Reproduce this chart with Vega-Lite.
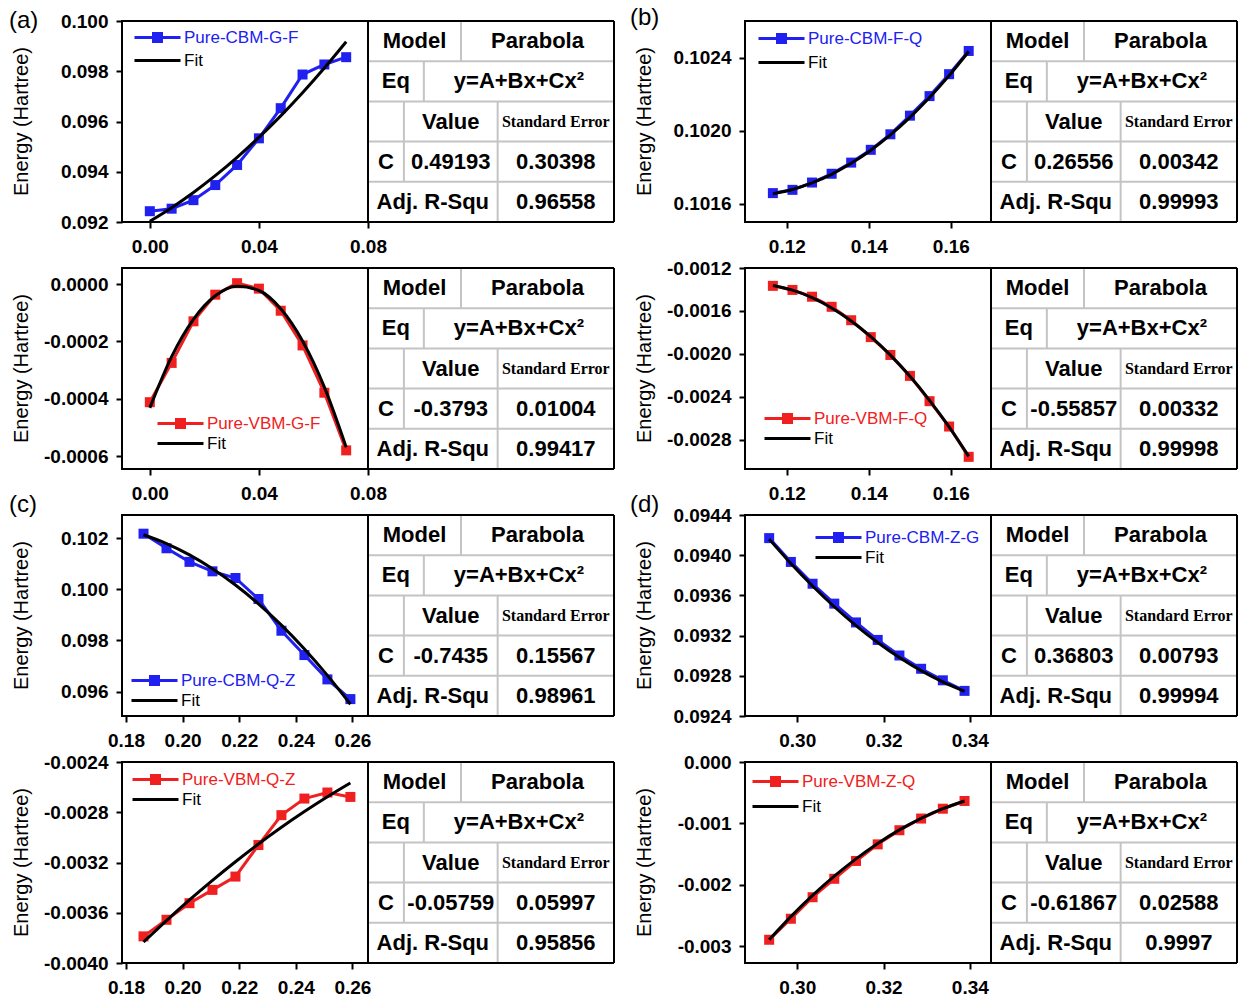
{
"$schema": "https://vega.github.io/schema/vega-lite/v6.json",
"padding": {"left": 8, "top": 5, "right": 0, "bottom": 0},
"background": "white",
"config": {
  "font": "Liberation Sans",
  "view": {"stroke": "black", "strokeWidth": 2},
  "axis": {"domain": false, "grid": false, "tickColor": "black", "tickWidth": 2, "tickSize": 6, "labelFont": "Liberation Sans", "labelFontSize": 19, "labelFontWeight": "bold", "labelColor": "black", "labelPadding": 9, "labelFlush": false, "labelOverlap": false, "titleFont": "Liberation Sans", "titleFontSize": 20, "titleFontWeight": "normal", "titleColor": "black"},
  "axisY": {"titleX": -101, "titleY": 100, "titleAngle": 270, "titleBaseline": "middle", "titleAlign": "center", "labelPadding": 8},
  "legend": {"labelFont": "Liberation Sans", "labelFontSize": 17, "symbolSize": 256, "symbolStrokeWidth": 3, "labelOffset": 17, "padding": 0},
  "title": {"font": "Liberation Sans", "fontSize": 24, "fontWeight": "normal", "color": "black", "anchor": "start", "frame": "group", "offset": 0},
  "locale": {"number": {"decimal": ".", "thousands": ",", "grouping": [3], "currency": ["$", ""], "minus": "-"}}
},
"datasets": {
  "pts": [
    {"p":"a1","s":"Pure-CBM-G-F","x":0,"y":0.09243},{"p":"a1","s":"Pure-CBM-G-F","x":0.008,"y":0.09253},{"p":"a1","s":"Pure-CBM-G-F","x":0.016,"y":0.09287},{"p":"a1","s":"Pure-CBM-G-F","x":0.024,"y":0.09347},{"p":"a1","s":"Pure-CBM-G-F","x":0.032,"y":0.09427},{"p":"a1","s":"Pure-CBM-G-F","x":0.04,"y":0.09533},{"p":"a1","s":"Pure-CBM-G-F","x":0.048,"y":0.09653},{"p":"a1","s":"Pure-CBM-G-F","x":0.056,"y":0.09787},{"p":"a1","s":"Pure-CBM-G-F","x":0.064,"y":0.09827},{"p":"a1","s":"Pure-CBM-G-F","x":0.072,"y":0.09856},
    {"p":"a1","s":"Fit","x":0,"y":0.09203},{"p":"a1","s":"Fit","x":0.008,"y":0.092572},{"p":"a1","s":"Fit","x":0.016,"y":0.093177},{"p":"a1","s":"Fit","x":0.024,"y":0.093844},{"p":"a1","s":"Fit","x":0.032,"y":0.094576},{"p":"a1","s":"Fit","x":0.04,"y":0.095369},{"p":"a1","s":"Fit","x":0.048,"y":0.096225},{"p":"a1","s":"Fit","x":0.056,"y":0.097146},{"p":"a1","s":"Fit","x":0.064,"y":0.098128},{"p":"a1","s":"Fit","x":0.072,"y":0.099174},
    {"p":"a2","s":"Pure-VBM-G-F","x":0,"y":-0.000412},{"p":"a2","s":"Pure-VBM-G-F","x":0.008,"y":-0.000275},{"p":"a2","s":"Pure-VBM-G-F","x":0.016,"y":-0.00013},{"p":"a2","s":"Pure-VBM-G-F","x":0.024,"y":-0.000037},{"p":"a2","s":"Pure-VBM-G-F","x":0.032,"y":0.000003},{"p":"a2","s":"Pure-VBM-G-F","x":0.04,"y":-0.000016},{"p":"a2","s":"Pure-VBM-G-F","x":0.048,"y":-0.000093},{"p":"a2","s":"Pure-VBM-G-F","x":0.056,"y":-0.000214},{"p":"a2","s":"Pure-VBM-G-F","x":0.064,"y":-0.000379},{"p":"a2","s":"Pure-VBM-G-F","x":0.072,"y":-0.00058},
    {"p":"a2","s":"Fit","x":0,"y":-0.000432},{"p":"a2","s":"Fit","x":0.008,"y":-0.000253},{"p":"a2","s":"Fit","x":0.016,"y":-0.000123},{"p":"a2","s":"Fit","x":0.024,"y":-0.000041},{"p":"a2","s":"Fit","x":0.032,"y":-0.0000073},{"p":"a2","s":"Fit","x":0.04,"y":-0.0000225},{"p":"a2","s":"Fit","x":0.048,"y":-0.0000862},{"p":"a2","s":"Fit","x":0.056,"y":-0.0001985},{"p":"a2","s":"Fit","x":0.064,"y":-0.0003594},{"p":"a2","s":"Fit","x":0.072,"y":-0.0005688},
    {"p":"b1","s":"Pure-CBM-F-Q","x":0.1166,"y":0.101658},{"p":"b1","s":"Pure-CBM-F-Q","x":0.12138,"y":0.101676},{"p":"b1","s":"Pure-CBM-F-Q","x":0.12615,"y":0.101716},{"p":"b1","s":"Pure-CBM-F-Q","x":0.13093,"y":0.101764},{"p":"b1","s":"Pure-CBM-F-Q","x":0.1357,"y":0.101825},{"p":"b1","s":"Pure-CBM-F-Q","x":0.14048,"y":0.101895},{"p":"b1","s":"Pure-CBM-F-Q","x":0.14526,"y":0.10198},{"p":"b1","s":"Pure-CBM-F-Q","x":0.15003,"y":0.102082},{"p":"b1","s":"Pure-CBM-F-Q","x":0.15481,"y":0.102189},{"p":"b1","s":"Pure-CBM-F-Q","x":0.15958,"y":0.102309},{"p":"b1","s":"Pure-CBM-F-Q","x":0.16436,"y":0.102436},
    {"p":"b1","s":"Fit","x":0.1166,"y":0.101655},{"p":"b1","s":"Fit","x":0.12138,"y":0.101678},{"p":"b1","s":"Fit","x":0.12615,"y":0.101714},{"p":"b1","s":"Fit","x":0.13093,"y":0.101761},{"p":"b1","s":"Fit","x":0.1357,"y":0.101821},{"p":"b1","s":"Fit","x":0.14048,"y":0.101893},{"p":"b1","s":"Fit","x":0.14526,"y":0.101977},{"p":"b1","s":"Fit","x":0.15003,"y":0.102073},{"p":"b1","s":"Fit","x":0.15481,"y":0.102181},{"p":"b1","s":"Fit","x":0.15958,"y":0.102301},{"p":"b1","s":"Fit","x":0.16436,"y":0.102433},
    {"p":"b2","s":"Pure-VBM-F-Q","x":0.1166,"y":-0.001366},{"p":"b2","s":"Pure-VBM-F-Q","x":0.12138,"y":-0.001404},{"p":"b2","s":"Pure-VBM-F-Q","x":0.12615,"y":-0.001467},{"p":"b2","s":"Pure-VBM-F-Q","x":0.13093,"y":-0.001561},{"p":"b2","s":"Pure-VBM-F-Q","x":0.1357,"y":-0.001686},{"p":"b2","s":"Pure-VBM-F-Q","x":0.14048,"y":-0.001843},{"p":"b2","s":"Pure-VBM-F-Q","x":0.14526,"y":-0.002009},{"p":"b2","s":"Pure-VBM-F-Q","x":0.15003,"y":-0.002204},{"p":"b2","s":"Pure-VBM-F-Q","x":0.15481,"y":-0.002439},{"p":"b2","s":"Pure-VBM-F-Q","x":0.15958,"y":-0.002675},{"p":"b2","s":"Pure-VBM-F-Q","x":0.16436,"y":-0.002957},
    {"p":"b2","s":"Fit","x":0.1166,"y":-0.001362},{"p":"b2","s":"Fit","x":0.12138,"y":-0.001406},{"p":"b2","s":"Fit","x":0.12615,"y":-0.001476},{"p":"b2","s":"Fit","x":0.13093,"y":-0.001572},{"p":"b2","s":"Fit","x":0.1357,"y":-0.001693},{"p":"b2","s":"Fit","x":0.14048,"y":-0.001839},{"p":"b2","s":"Fit","x":0.14526,"y":-0.002011},{"p":"b2","s":"Fit","x":0.15003,"y":-0.002208},{"p":"b2","s":"Fit","x":0.15481,"y":-0.002431},{"p":"b2","s":"Fit","x":0.15958,"y":-0.002679},{"p":"b2","s":"Fit","x":0.16436,"y":-0.002953},
    {"p":"c1","s":"Pure-CBM-Q-Z","x":0.1862,"y":0.10217},{"p":"c1","s":"Pure-CBM-Q-Z","x":0.19432,"y":0.1016},{"p":"c1","s":"Pure-CBM-Q-Z","x":0.20244,"y":0.10107},{"p":"c1","s":"Pure-CBM-Q-Z","x":0.21056,"y":0.1007},{"p":"c1","s":"Pure-CBM-Q-Z","x":0.21868,"y":0.10044},{"p":"c1","s":"Pure-CBM-Q-Z","x":0.2268,"y":0.09962},{"p":"c1","s":"Pure-CBM-Q-Z","x":0.23492,"y":0.09838},{"p":"c1","s":"Pure-CBM-Q-Z","x":0.24304,"y":0.09743},{"p":"c1","s":"Pure-CBM-Q-Z","x":0.25116,"y":0.09648},{"p":"c1","s":"Pure-CBM-Q-Z","x":0.25928,"y":0.09571},
    {"p":"c1","s":"Fit","x":0.1862,"y":0.10213},{"p":"c1","s":"Fit","x":0.19432,"y":0.101786},{"p":"c1","s":"Fit","x":0.20244,"y":0.101345},{"p":"c1","s":"Fit","x":0.21056,"y":0.100805},{"p":"c1","s":"Fit","x":0.21868,"y":0.100167},{"p":"c1","s":"Fit","x":0.2268,"y":0.099432},{"p":"c1","s":"Fit","x":0.23492,"y":0.098598},{"p":"c1","s":"Fit","x":0.24304,"y":0.097667},{"p":"c1","s":"Fit","x":0.25116,"y":0.096637},{"p":"c1","s":"Fit","x":0.25928,"y":0.09551},
    {"p":"c2","s":"Pure-VBM-Q-Z","x":0.1862,"y":-0.003788},{"p":"c2","s":"Pure-VBM-Q-Z","x":0.19432,"y":-0.003656},{"p":"c2","s":"Pure-VBM-Q-Z","x":0.20244,"y":-0.003524},{"p":"c2","s":"Pure-VBM-Q-Z","x":0.21056,"y":-0.003418},{"p":"c2","s":"Pure-VBM-Q-Z","x":0.21868,"y":-0.003312},{"p":"c2","s":"Pure-VBM-Q-Z","x":0.2268,"y":-0.003061},{"p":"c2","s":"Pure-VBM-Q-Z","x":0.23492,"y":-0.002823},{"p":"c2","s":"Pure-VBM-Q-Z","x":0.24304,"y":-0.002691},{"p":"c2","s":"Pure-VBM-Q-Z","x":0.25116,"y":-0.002643},{"p":"c2","s":"Pure-VBM-Q-Z","x":0.25928,"y":-0.002678},
    {"p":"c2","s":"Fit","x":0.1862,"y":-0.003833},{"p":"c2","s":"Fit","x":0.19432,"y":-0.003662},{"p":"c2","s":"Fit","x":0.20244,"y":-0.003498},{"p":"c2","s":"Fit","x":0.21056,"y":-0.003342},{"p":"c2","s":"Fit","x":0.21868,"y":-0.003194},{"p":"c2","s":"Fit","x":0.2268,"y":-0.003053},{"p":"c2","s":"Fit","x":0.23492,"y":-0.00292},{"p":"c2","s":"Fit","x":0.24304,"y":-0.002795},{"p":"c2","s":"Fit","x":0.25116,"y":-0.002677},{"p":"c2","s":"Fit","x":0.25928,"y":-0.002567},
    {"p":"d1","s":"Pure-CBM-Z-G","x":0.2935,"y":0.09417},{"p":"d1","s":"Pure-CBM-Z-G","x":0.29853,"y":0.093933},{"p":"d1","s":"Pure-CBM-Z-G","x":0.30356,"y":0.093716},{"p":"d1","s":"Pure-CBM-Z-G","x":0.30859,"y":0.093518},{"p":"d1","s":"Pure-CBM-Z-G","x":0.31362,"y":0.093331},{"p":"d1","s":"Pure-CBM-Z-G","x":0.31865,"y":0.093157},{"p":"d1","s":"Pure-CBM-Z-G","x":0.32368,"y":0.093002},{"p":"d1","s":"Pure-CBM-Z-G","x":0.32871,"y":0.09287},{"p":"d1","s":"Pure-CBM-Z-G","x":0.33374,"y":0.092755},{"p":"d1","s":"Pure-CBM-Z-G","x":0.33877,"y":0.09265},
    {"p":"d1","s":"Fit","x":0.2935,"y":0.09416},{"p":"d1","s":"Fit","x":0.29853,"y":0.093917},{"p":"d1","s":"Fit","x":0.30356,"y":0.093693},{"p":"d1","s":"Fit","x":0.30859,"y":0.093487},{"p":"d1","s":"Fit","x":0.31362,"y":0.0933},{"p":"d1","s":"Fit","x":0.31865,"y":0.093132},{"p":"d1","s":"Fit","x":0.32368,"y":0.092982},{"p":"d1","s":"Fit","x":0.32871,"y":0.092851},{"p":"d1","s":"Fit","x":0.33374,"y":0.092739},{"p":"d1","s":"Fit","x":0.33877,"y":0.092645},
    {"p":"d2","s":"Pure-VBM-Z-Q","x":0.2935,"y":-0.002892},{"p":"d2","s":"Pure-VBM-Z-Q","x":0.29853,"y":-0.00255},{"p":"d2","s":"Pure-VBM-Z-Q","x":0.30356,"y":-0.0022},{"p":"d2","s":"Pure-VBM-Z-Q","x":0.30859,"y":-0.0019},{"p":"d2","s":"Pure-VBM-Z-Q","x":0.31362,"y":-0.00161},{"p":"d2","s":"Pure-VBM-Z-Q","x":0.31865,"y":-0.00134},{"p":"d2","s":"Pure-VBM-Z-Q","x":0.32368,"y":-0.00111},{"p":"d2","s":"Pure-VBM-Z-Q","x":0.32871,"y":-0.00092},{"p":"d2","s":"Pure-VBM-Z-Q","x":0.33374,"y":-0.00076},{"p":"d2","s":"Pure-VBM-Z-Q","x":0.33877,"y":-0.000634},
    {"p":"d2","s":"Fit","x":0.2935,"y":-0.002892},{"p":"d2","s":"Fit","x":0.29853,"y":-0.002516},{"p":"d2","s":"Fit","x":0.30356,"y":-0.002171},{"p":"d2","s":"Fit","x":0.30859,"y":-0.001858},{"p":"d2","s":"Fit","x":0.31362,"y":-0.001576},{"p":"d2","s":"Fit","x":0.31865,"y":-0.001325},{"p":"d2","s":"Fit","x":0.32368,"y":-0.001105},{"p":"d2","s":"Fit","x":0.32871,"y":-0.000917},{"p":"d2","s":"Fit","x":0.33374,"y":-0.00076},{"p":"d2","s":"Fit","x":0.33877,"y":-0.000634}
  ],
  "grid": [
    {"x":0,"x2":100,"y":1,"y2":1},{"x":0,"x2":100,"y":2,"y2":2},{"x":0,"x2":100,"y":3,"y2":3},{"x":0,"x2":100,"y":4,"y2":4},
    {"x":37.8,"x2":37.8,"y":0,"y2":1},{"x":22.7,"x2":22.7,"y":1,"y2":2},{"x":14.6,"x2":14.6,"y":2,"y2":4},{"x":52.7,"x2":52.7,"y":2,"y2":5}
  ],
  "frame": [
    {"x":0,"x2":100,"y":0,"y2":0},{"x":0,"x2":100,"y":5,"y2":5},{"x":0,"x2":0,"y":0,"y2":5},{"x":100,"x2":100,"y":0,"y2":5}
  ],
  "cells": [
    {"p":"all","tx":18.9,"r":0.5,"t":"Model"},{"p":"all","tx":68.9,"r":0.5,"t":"Parabola"},{"p":"all","tx":11.35,"r":1.5,"t":"Eq"},{"p":"all","tx":61.35,"r":1.5,"t":"y=A+Bx+Cx²"},{"p":"all","tx":33.65,"r":2.5,"t":"Value"},{"p":"all","tx":76.35,"r":2.5,"t":"Standard Error"},{"p":"all","tx":7.3,"r":3.5,"t":"C"},{"p":"all","tx":26.35,"r":4.5,"t":"Adj. R-Squ"},
    {"p":"a1","tx":33.65,"r":3.5,"t":"0.49193"},{"p":"a1","tx":76.35,"r":3.5,"t":"0.30398"},{"p":"a1","tx":76.35,"r":4.5,"t":"0.96558"},
    {"p":"a2","tx":33.65,"r":3.5,"t":"-0.3793"},{"p":"a2","tx":76.35,"r":3.5,"t":"0.01004"},{"p":"a2","tx":76.35,"r":4.5,"t":"0.99417"},
    {"p":"b1","tx":33.65,"r":3.5,"t":"0.26556"},{"p":"b1","tx":76.35,"r":3.5,"t":"0.00342"},{"p":"b1","tx":76.35,"r":4.5,"t":"0.99993"},
    {"p":"b2","tx":33.65,"r":3.5,"t":"-0.55857"},{"p":"b2","tx":76.35,"r":3.5,"t":"0.00332"},{"p":"b2","tx":76.35,"r":4.5,"t":"0.99998"},
    {"p":"c1","tx":33.65,"r":3.5,"t":"-0.7435"},{"p":"c1","tx":76.35,"r":3.5,"t":"0.15567"},{"p":"c1","tx":76.35,"r":4.5,"t":"0.98961"},
    {"p":"c2","tx":33.65,"r":3.5,"t":"-0.05759"},{"p":"c2","tx":76.35,"r":3.5,"t":"0.05997"},{"p":"c2","tx":76.35,"r":4.5,"t":"0.95856"},
    {"p":"d1","tx":33.65,"r":3.5,"t":"0.36803"},{"p":"d1","tx":76.35,"r":3.5,"t":"0.00793"},{"p":"d1","tx":76.35,"r":4.5,"t":"0.99994"},
    {"p":"d2","tx":33.65,"r":3.5,"t":"-0.61867"},{"p":"d2","tx":76.35,"r":3.5,"t":"0.02588"},{"p":"d2","tx":76.35,"r":4.5,"t":"0.9997"}
  ]
},
"columns": 4,
"bounds": "flush",
"align": "each",
"spacing": {"row": 46, "column": 0},
"resolve": {"scale": {"color": "independent"}, "legend": {"color": "independent"}},
"concat": [
   {"width": 246, "height": 201, "title": {"text": "(a)", "dx": -113, "dy": 25},
    "data": {"name": "pts"}, "transform": [{"filter": "datum.p === 'a1'"}],
    "encoding": {
     "x": {"field": "x", "type": "quantitative", "scale": {"domain": [-0.0102, 0.08], "nice": false, "zero": false}, "axis": {"values": [0, 0.04, 0.08], "format": ".2f", "title": null}},
     "y": {"field": "y", "type": "quantitative", "scale": {"domain": [0.092, 0.1], "nice": false, "zero": false}, "axis": {"values": [0.092, 0.094, 0.096, 0.098, 0.1], "format": ".3f", "title": "Energy (Hartree)"}},
     "color": {"field": "s", "type": "nominal", "scale": {"domain": ["Pure-CBM-G-F", "Fit"], "range": ["#2020f0", "black"]},
      "legend": {"title": null, "orient": "none", "legendX": 26, "legendY": 7, "rowPadding": 3, "symbolType": {"expr": "datum.value === 'Fit' ? 'M-2.875,0L2.875,0' : 'M-2.875,0L2.875,0M-0.5,-0.5L0.5,-0.5L0.5,0.5L-0.5,0.5Z'"}, "labelColor": {"expr": "datum.value === 'Fit' ? 'black' : '#2020f0'"}, "symbolFillColor": {"expr": "datum.value === 'Fit' ? 'black' : '#2020f0'"}}}
    },
    "layer": [
     {"transform": [{"filter": "datum.s !== 'Fit'"}], "mark": {"type": "line", "strokeWidth": 3}},
     {"transform": [{"filter": "datum.s !== 'Fit'"}], "mark": {"type": "point", "shape": "square", "filled": true, "size": 100, "opacity": 1}},
     {"transform": [{"filter": "datum.s === 'Fit'"}], "mark": {"type": "line", "strokeWidth": 3, "interpolate": "monotone"}}
    ]},
   {"width": 377, "height": 201, "view": {"stroke": null}, "layer": [
     {"data": {"name": "grid"}, "mark": {"type": "rule", "color": "#c4c4c4", "strokeWidth": 2}, "encoding": {"x": {"field": "x", "type": "quantitative", "scale": {"domain": [0, 153.25], "nice": false}, "axis": null}, "x2": {"field": "x2"}, "y": {"field": "y", "type": "quantitative", "scale": {"domain": [0, 5], "reverse": true, "nice": false}, "axis": null}, "y2": {"field": "y2"}}},
     {"data": {"name": "frame"}, "mark": {"type": "rule", "color": "black", "strokeWidth": 2}, "encoding": {"x": {"field": "x", "type": "quantitative", "scale": {"domain": [0, 153.25], "nice": false}, "axis": null}, "x2": {"field": "x2"}, "y": {"field": "y", "type": "quantitative", "scale": {"domain": [0, 5], "reverse": true, "nice": false}, "axis": null}, "y2": {"field": "y2"}}},
     {"data": {"name": "cells"}, "transform": [{"filter": "(datum.p === 'a1' || datum.p === 'all') && datum.t !== 'Standard Error'"}], "mark": {"type": "text", "fontSize": 22, "font": "Liberation Sans", "fontWeight": "bold", "color": "black"}, "encoding": {"x": {"field": "tx", "type": "quantitative", "scale": {"domain": [0, 153.25], "nice": false}, "axis": null}, "y": {"field": "r", "type": "quantitative", "scale": {"domain": [0, 5], "reverse": true, "nice": false}, "axis": null}, "text": {"field": "t"}}},
     {"data": {"name": "cells"}, "transform": [{"filter": "datum.t === 'Standard Error'"}], "mark": {"type": "text", "fontSize": 16, "font": "Liberation Serif", "fontWeight": "bold", "color": "black"}, "encoding": {"x": {"field": "tx", "type": "quantitative", "scale": {"domain": [0, 153.25], "nice": false}, "axis": null}, "y": {"field": "r", "type": "quantitative", "scale": {"domain": [0, 5], "reverse": true, "nice": false}, "axis": null}, "text": {"field": "t"}}}
   ]},
   {"width": 246, "height": 201, "title": {"text": "(b)", "dx": -115, "dy": 13},
    "data": {"name": "pts"}, "transform": [{"filter": "datum.p === 'b1'"}],
    "encoding": {
     "x": {"field": "x", "type": "quantitative", "scale": {"domain": [0.1098, 0.1698], "nice": false, "zero": false}, "axis": {"values": [0.12, 0.14, 0.16], "format": ".2f", "title": null}},
     "y": {"field": "y", "type": "quantitative", "scale": {"domain": [0.1015, 0.1026], "nice": false, "zero": false}, "axis": {"values": [0.1016, 0.102, 0.1024], "format": ".4f", "title": "Energy (Hartree)"}},
     "color": {"field": "s", "type": "nominal", "scale": {"domain": ["Pure-CBM-F-Q", "Fit"], "range": ["#2020f0", "black"]},
      "legend": {"title": null, "orient": "none", "legendX": 27, "legendY": 8, "rowPadding": 4, "symbolType": {"expr": "datum.value === 'Fit' ? 'M-2.875,0L2.875,0' : 'M-2.875,0L2.875,0M-0.5,-0.5L0.5,-0.5L0.5,0.5L-0.5,0.5Z'"}, "labelColor": {"expr": "datum.value === 'Fit' ? 'black' : '#2020f0'"}, "symbolFillColor": {"expr": "datum.value === 'Fit' ? 'black' : '#2020f0'"}}}
    },
    "layer": [
     {"transform": [{"filter": "datum.s !== 'Fit'"}], "mark": {"type": "line", "strokeWidth": 3}},
     {"transform": [{"filter": "datum.s !== 'Fit'"}], "mark": {"type": "point", "shape": "square", "filled": true, "size": 100, "opacity": 1}},
     {"transform": [{"filter": "datum.s === 'Fit'"}], "mark": {"type": "line", "strokeWidth": 3, "interpolate": "monotone"}}
    ]},
   {"width": 246, "height": 201, "view": {"stroke": null}, "layer": [
     {"data": {"name": "grid"}, "mark": {"type": "rule", "color": "#c4c4c4", "strokeWidth": 2}, "encoding": {"x": {"field": "x", "type": "quantitative", "scale": {"domain": [0, 100], "nice": false}, "axis": null}, "x2": {"field": "x2"}, "y": {"field": "y", "type": "quantitative", "scale": {"domain": [0, 5], "reverse": true, "nice": false}, "axis": null}, "y2": {"field": "y2"}}},
     {"data": {"name": "frame"}, "mark": {"type": "rule", "color": "black", "strokeWidth": 2}, "encoding": {"x": {"field": "x", "type": "quantitative", "scale": {"domain": [0, 100], "nice": false}, "axis": null}, "x2": {"field": "x2"}, "y": {"field": "y", "type": "quantitative", "scale": {"domain": [0, 5], "reverse": true, "nice": false}, "axis": null}, "y2": {"field": "y2"}}},
     {"data": {"name": "cells"}, "transform": [{"filter": "(datum.p === 'b1' || datum.p === 'all') && datum.t !== 'Standard Error'"}], "mark": {"type": "text", "fontSize": 22, "font": "Liberation Sans", "fontWeight": "bold", "color": "black"}, "encoding": {"x": {"field": "tx", "type": "quantitative", "scale": {"domain": [0, 100], "nice": false}, "axis": null}, "y": {"field": "r", "type": "quantitative", "scale": {"domain": [0, 5], "reverse": true, "nice": false}, "axis": null}, "text": {"field": "t"}}},
     {"data": {"name": "cells"}, "transform": [{"filter": "datum.t === 'Standard Error'"}], "mark": {"type": "text", "fontSize": 16, "font": "Liberation Serif", "fontWeight": "bold", "color": "black"}, "encoding": {"x": {"field": "tx", "type": "quantitative", "scale": {"domain": [0, 100], "nice": false}, "axis": null}, "y": {"field": "r", "type": "quantitative", "scale": {"domain": [0, 5], "reverse": true, "nice": false}, "axis": null}, "text": {"field": "t"}}}
   ]},
   {"width": 246, "height": 201,
    "data": {"name": "pts"}, "transform": [{"filter": "datum.p === 'a2'"}],
    "encoding": {
     "x": {"field": "x", "type": "quantitative", "scale": {"domain": [-0.0102, 0.08], "nice": false, "zero": false}, "axis": {"values": [0, 0.04, 0.08], "format": ".2f", "title": null}},
     "y": {"field": "y", "type": "quantitative", "scale": {"domain": [-0.000645, 0.000056], "nice": false, "zero": false}, "axis": {"values": [-0.0006, -0.0004, -0.0002, 0], "format": ".4f", "title": "Energy (Hartree)"}},
     "color": {"field": "s", "type": "nominal", "scale": {"domain": ["Pure-VBM-G-F", "Fit"], "range": ["#f02020", "black"]},
      "legend": {"title": null, "orient": "none", "legendX": 49, "legendY": 146, "rowPadding": -5, "symbolType": {"expr": "datum.value === 'Fit' ? 'M-2.875,0L2.875,0' : 'M-2.875,0L2.875,0M-0.5,-0.5L0.5,-0.5L0.5,0.5L-0.5,0.5Z'"}, "labelColor": {"expr": "datum.value === 'Fit' ? 'black' : '#f02020'"}, "symbolFillColor": {"expr": "datum.value === 'Fit' ? 'black' : '#f02020'"}}}
    },
    "layer": [
     {"transform": [{"filter": "datum.s !== 'Fit'"}], "mark": {"type": "line", "strokeWidth": 3}},
     {"transform": [{"filter": "datum.s !== 'Fit'"}], "mark": {"type": "point", "shape": "square", "filled": true, "size": 100, "opacity": 1}},
     {"transform": [{"filter": "datum.s === 'Fit'"}], "mark": {"type": "line", "strokeWidth": 3, "interpolate": "monotone"}}
    ]},
   {"width": 377, "height": 201, "view": {"stroke": null}, "layer": [
     {"data": {"name": "grid"}, "mark": {"type": "rule", "color": "#c4c4c4", "strokeWidth": 2}, "encoding": {"x": {"field": "x", "type": "quantitative", "scale": {"domain": [0, 153.25], "nice": false}, "axis": null}, "x2": {"field": "x2"}, "y": {"field": "y", "type": "quantitative", "scale": {"domain": [0, 5], "reverse": true, "nice": false}, "axis": null}, "y2": {"field": "y2"}}},
     {"data": {"name": "frame"}, "mark": {"type": "rule", "color": "black", "strokeWidth": 2}, "encoding": {"x": {"field": "x", "type": "quantitative", "scale": {"domain": [0, 153.25], "nice": false}, "axis": null}, "x2": {"field": "x2"}, "y": {"field": "y", "type": "quantitative", "scale": {"domain": [0, 5], "reverse": true, "nice": false}, "axis": null}, "y2": {"field": "y2"}}},
     {"data": {"name": "cells"}, "transform": [{"filter": "(datum.p === 'a2' || datum.p === 'all') && datum.t !== 'Standard Error'"}], "mark": {"type": "text", "fontSize": 22, "font": "Liberation Sans", "fontWeight": "bold", "color": "black"}, "encoding": {"x": {"field": "tx", "type": "quantitative", "scale": {"domain": [0, 153.25], "nice": false}, "axis": null}, "y": {"field": "r", "type": "quantitative", "scale": {"domain": [0, 5], "reverse": true, "nice": false}, "axis": null}, "text": {"field": "t"}}},
     {"data": {"name": "cells"}, "transform": [{"filter": "datum.t === 'Standard Error'"}], "mark": {"type": "text", "fontSize": 16, "font": "Liberation Serif", "fontWeight": "bold", "color": "black"}, "encoding": {"x": {"field": "tx", "type": "quantitative", "scale": {"domain": [0, 153.25], "nice": false}, "axis": null}, "y": {"field": "r", "type": "quantitative", "scale": {"domain": [0, 5], "reverse": true, "nice": false}, "axis": null}, "text": {"field": "t"}}}
   ]},
   {"width": 246, "height": 201,
    "data": {"name": "pts"}, "transform": [{"filter": "datum.p === 'b2'"}],
    "encoding": {
     "x": {"field": "x", "type": "quantitative", "scale": {"domain": [0.1098, 0.1698], "nice": false, "zero": false}, "axis": {"values": [0.12, 0.14, 0.16], "format": ".2f", "title": null}},
     "y": {"field": "y", "type": "quantitative", "scale": {"domain": [-0.00307, -0.0012], "nice": false, "zero": false}, "axis": {"values": [-0.0028, -0.0024, -0.002, -0.0016, -0.0012], "format": ".4f", "title": "Energy (Hartree)"}},
     "color": {"field": "s", "type": "nominal", "scale": {"domain": ["Pure-VBM-F-Q", "Fit"], "range": ["#f02020", "black"]},
      "legend": {"title": null, "orient": "none", "legendX": 33, "legendY": 141, "rowPadding": -4, "symbolType": {"expr": "datum.value === 'Fit' ? 'M-2.875,0L2.875,0' : 'M-2.875,0L2.875,0M-0.5,-0.5L0.5,-0.5L0.5,0.5L-0.5,0.5Z'"}, "labelColor": {"expr": "datum.value === 'Fit' ? 'black' : '#f02020'"}, "symbolFillColor": {"expr": "datum.value === 'Fit' ? 'black' : '#f02020'"}}}
    },
    "layer": [
     {"transform": [{"filter": "datum.s !== 'Fit'"}], "mark": {"type": "line", "strokeWidth": 3}},
     {"transform": [{"filter": "datum.s !== 'Fit'"}], "mark": {"type": "point", "shape": "square", "filled": true, "size": 100, "opacity": 1}},
     {"transform": [{"filter": "datum.s === 'Fit'"}], "mark": {"type": "line", "strokeWidth": 3, "interpolate": "monotone"}}
    ]},
   {"width": 246, "height": 201, "view": {"stroke": null}, "layer": [
     {"data": {"name": "grid"}, "mark": {"type": "rule", "color": "#c4c4c4", "strokeWidth": 2}, "encoding": {"x": {"field": "x", "type": "quantitative", "scale": {"domain": [0, 100], "nice": false}, "axis": null}, "x2": {"field": "x2"}, "y": {"field": "y", "type": "quantitative", "scale": {"domain": [0, 5], "reverse": true, "nice": false}, "axis": null}, "y2": {"field": "y2"}}},
     {"data": {"name": "frame"}, "mark": {"type": "rule", "color": "black", "strokeWidth": 2}, "encoding": {"x": {"field": "x", "type": "quantitative", "scale": {"domain": [0, 100], "nice": false}, "axis": null}, "x2": {"field": "x2"}, "y": {"field": "y", "type": "quantitative", "scale": {"domain": [0, 5], "reverse": true, "nice": false}, "axis": null}, "y2": {"field": "y2"}}},
     {"data": {"name": "cells"}, "transform": [{"filter": "(datum.p === 'b2' || datum.p === 'all') && datum.t !== 'Standard Error'"}], "mark": {"type": "text", "fontSize": 22, "font": "Liberation Sans", "fontWeight": "bold", "color": "black"}, "encoding": {"x": {"field": "tx", "type": "quantitative", "scale": {"domain": [0, 100], "nice": false}, "axis": null}, "y": {"field": "r", "type": "quantitative", "scale": {"domain": [0, 5], "reverse": true, "nice": false}, "axis": null}, "text": {"field": "t"}}},
     {"data": {"name": "cells"}, "transform": [{"filter": "datum.t === 'Standard Error'"}], "mark": {"type": "text", "fontSize": 16, "font": "Liberation Serif", "fontWeight": "bold", "color": "black"}, "encoding": {"x": {"field": "tx", "type": "quantitative", "scale": {"domain": [0, 100], "nice": false}, "axis": null}, "y": {"field": "r", "type": "quantitative", "scale": {"domain": [0, 5], "reverse": true, "nice": false}, "axis": null}, "text": {"field": "t"}}}
   ]},
   {"width": 246, "height": 201, "title": {"text": "(c)", "dx": -113, "dy": 6},
    "data": {"name": "pts"}, "transform": [{"filter": "datum.p === 'c1'"}],
    "encoding": {
     "x": {"field": "x", "type": "quantitative", "scale": {"domain": [0.1786, 0.2655], "nice": false, "zero": false}, "axis": {"values": [0.18, 0.2, 0.22, 0.24, 0.26], "format": ".2f", "title": null}},
     "y": {"field": "y", "type": "quantitative", "scale": {"domain": [0.09505, 0.1029], "nice": false, "zero": false}, "axis": {"values": [0.096, 0.098, 0.1, 0.102], "format": ".3f", "title": "Energy (Hartree)"}},
     "color": {"field": "s", "type": "nominal", "scale": {"domain": ["Pure-CBM-Q-Z", "Fit"], "range": ["#2020f0", "black"]},
      "legend": {"title": null, "orient": "none", "legendX": 23, "legendY": 156, "rowPadding": -1, "symbolType": {"expr": "datum.value === 'Fit' ? 'M-2.875,0L2.875,0' : 'M-2.875,0L2.875,0M-0.5,-0.5L0.5,-0.5L0.5,0.5L-0.5,0.5Z'"}, "labelColor": {"expr": "datum.value === 'Fit' ? 'black' : '#2020f0'"}, "symbolFillColor": {"expr": "datum.value === 'Fit' ? 'black' : '#2020f0'"}}}
    },
    "layer": [
     {"transform": [{"filter": "datum.s !== 'Fit'"}], "mark": {"type": "line", "strokeWidth": 3}},
     {"transform": [{"filter": "datum.s !== 'Fit'"}], "mark": {"type": "point", "shape": "square", "filled": true, "size": 100, "opacity": 1}},
     {"transform": [{"filter": "datum.s === 'Fit'"}], "mark": {"type": "line", "strokeWidth": 3, "interpolate": "monotone"}}
    ]},
   {"width": 377, "height": 201, "view": {"stroke": null}, "layer": [
     {"data": {"name": "grid"}, "mark": {"type": "rule", "color": "#c4c4c4", "strokeWidth": 2}, "encoding": {"x": {"field": "x", "type": "quantitative", "scale": {"domain": [0, 153.25], "nice": false}, "axis": null}, "x2": {"field": "x2"}, "y": {"field": "y", "type": "quantitative", "scale": {"domain": [0, 5], "reverse": true, "nice": false}, "axis": null}, "y2": {"field": "y2"}}},
     {"data": {"name": "frame"}, "mark": {"type": "rule", "color": "black", "strokeWidth": 2}, "encoding": {"x": {"field": "x", "type": "quantitative", "scale": {"domain": [0, 153.25], "nice": false}, "axis": null}, "x2": {"field": "x2"}, "y": {"field": "y", "type": "quantitative", "scale": {"domain": [0, 5], "reverse": true, "nice": false}, "axis": null}, "y2": {"field": "y2"}}},
     {"data": {"name": "cells"}, "transform": [{"filter": "(datum.p === 'c1' || datum.p === 'all') && datum.t !== 'Standard Error'"}], "mark": {"type": "text", "fontSize": 22, "font": "Liberation Sans", "fontWeight": "bold", "color": "black"}, "encoding": {"x": {"field": "tx", "type": "quantitative", "scale": {"domain": [0, 153.25], "nice": false}, "axis": null}, "y": {"field": "r", "type": "quantitative", "scale": {"domain": [0, 5], "reverse": true, "nice": false}, "axis": null}, "text": {"field": "t"}}},
     {"data": {"name": "cells"}, "transform": [{"filter": "datum.t === 'Standard Error'"}], "mark": {"type": "text", "fontSize": 16, "font": "Liberation Serif", "fontWeight": "bold", "color": "black"}, "encoding": {"x": {"field": "tx", "type": "quantitative", "scale": {"domain": [0, 153.25], "nice": false}, "axis": null}, "y": {"field": "r", "type": "quantitative", "scale": {"domain": [0, 5], "reverse": true, "nice": false}, "axis": null}, "text": {"field": "t"}}}
   ]},
   {"width": 246, "height": 201, "title": {"text": "(d)", "dx": -115, "dy": 15},
    "data": {"name": "pts"}, "transform": [{"filter": "datum.p === 'd1'"}],
    "encoding": {
     "x": {"field": "x", "type": "quantitative", "scale": {"domain": [0.2879, 0.3449], "nice": false, "zero": false}, "axis": {"values": [0.3, 0.32, 0.34], "format": ".2f", "title": null}},
     "y": {"field": "y", "type": "quantitative", "scale": {"domain": [0.0924, 0.0944], "nice": false, "zero": false}, "axis": {"values": [0.0924, 0.0928, 0.0932, 0.0936, 0.094, 0.0944], "format": ".4f", "title": "Energy (Hartree)"}},
     "color": {"field": "s", "type": "nominal", "scale": {"domain": ["Pure-CBM-Z-G", "Fit"], "range": ["#2020f0", "black"]},
      "legend": {"title": null, "orient": "none", "legendX": 84, "legendY": 13, "rowPadding": -1, "symbolType": {"expr": "datum.value === 'Fit' ? 'M-2.875,0L2.875,0' : 'M-2.875,0L2.875,0M-0.5,-0.5L0.5,-0.5L0.5,0.5L-0.5,0.5Z'"}, "labelColor": {"expr": "datum.value === 'Fit' ? 'black' : '#2020f0'"}, "symbolFillColor": {"expr": "datum.value === 'Fit' ? 'black' : '#2020f0'"}}}
    },
    "layer": [
     {"transform": [{"filter": "datum.s !== 'Fit'"}], "mark": {"type": "line", "strokeWidth": 3}},
     {"transform": [{"filter": "datum.s !== 'Fit'"}], "mark": {"type": "point", "shape": "square", "filled": true, "size": 100, "opacity": 1}},
     {"transform": [{"filter": "datum.s === 'Fit'"}], "mark": {"type": "line", "strokeWidth": 3, "interpolate": "monotone"}}
    ]},
   {"width": 246, "height": 201, "view": {"stroke": null}, "layer": [
     {"data": {"name": "grid"}, "mark": {"type": "rule", "color": "#c4c4c4", "strokeWidth": 2}, "encoding": {"x": {"field": "x", "type": "quantitative", "scale": {"domain": [0, 100], "nice": false}, "axis": null}, "x2": {"field": "x2"}, "y": {"field": "y", "type": "quantitative", "scale": {"domain": [0, 5], "reverse": true, "nice": false}, "axis": null}, "y2": {"field": "y2"}}},
     {"data": {"name": "frame"}, "mark": {"type": "rule", "color": "black", "strokeWidth": 2}, "encoding": {"x": {"field": "x", "type": "quantitative", "scale": {"domain": [0, 100], "nice": false}, "axis": null}, "x2": {"field": "x2"}, "y": {"field": "y", "type": "quantitative", "scale": {"domain": [0, 5], "reverse": true, "nice": false}, "axis": null}, "y2": {"field": "y2"}}},
     {"data": {"name": "cells"}, "transform": [{"filter": "(datum.p === 'd1' || datum.p === 'all') && datum.t !== 'Standard Error'"}], "mark": {"type": "text", "fontSize": 22, "font": "Liberation Sans", "fontWeight": "bold", "color": "black"}, "encoding": {"x": {"field": "tx", "type": "quantitative", "scale": {"domain": [0, 100], "nice": false}, "axis": null}, "y": {"field": "r", "type": "quantitative", "scale": {"domain": [0, 5], "reverse": true, "nice": false}, "axis": null}, "text": {"field": "t"}}},
     {"data": {"name": "cells"}, "transform": [{"filter": "datum.t === 'Standard Error'"}], "mark": {"type": "text", "fontSize": 16, "font": "Liberation Serif", "fontWeight": "bold", "color": "black"}, "encoding": {"x": {"field": "tx", "type": "quantitative", "scale": {"domain": [0, 100], "nice": false}, "axis": null}, "y": {"field": "r", "type": "quantitative", "scale": {"domain": [0, 5], "reverse": true, "nice": false}, "axis": null}, "text": {"field": "t"}}}
   ]},
   {"width": 246, "height": 201,
    "data": {"name": "pts"}, "transform": [{"filter": "datum.p === 'c2'"}],
    "encoding": {
     "x": {"field": "x", "type": "quantitative", "scale": {"domain": [0.1786, 0.2655], "nice": false, "zero": false}, "axis": {"values": [0.18, 0.2, 0.22, 0.24, 0.26], "format": ".2f", "title": null}},
     "y": {"field": "y", "type": "quantitative", "scale": {"domain": [-0.004, -0.0024], "nice": false, "zero": false}, "axis": {"values": [-0.004, -0.0036, -0.0032, -0.0028, -0.0024], "format": ".4f", "title": "Energy (Hartree)"}},
     "color": {"field": "s", "type": "nominal", "scale": {"domain": ["Pure-VBM-Q-Z", "Fit"], "range": ["#f02020", "black"]},
      "legend": {"title": null, "orient": "none", "legendX": 24, "legendY": 8, "rowPadding": -2, "symbolType": {"expr": "datum.value === 'Fit' ? 'M-2.875,0L2.875,0' : 'M-2.875,0L2.875,0M-0.5,-0.5L0.5,-0.5L0.5,0.5L-0.5,0.5Z'"}, "labelColor": {"expr": "datum.value === 'Fit' ? 'black' : '#f02020'"}, "symbolFillColor": {"expr": "datum.value === 'Fit' ? 'black' : '#f02020'"}}}
    },
    "layer": [
     {"transform": [{"filter": "datum.s !== 'Fit'"}], "mark": {"type": "line", "strokeWidth": 3}},
     {"transform": [{"filter": "datum.s !== 'Fit'"}], "mark": {"type": "point", "shape": "square", "filled": true, "size": 100, "opacity": 1}},
     {"transform": [{"filter": "datum.s === 'Fit'"}], "mark": {"type": "line", "strokeWidth": 3, "interpolate": "monotone"}}
    ]},
   {"width": 377, "height": 201, "view": {"stroke": null}, "layer": [
     {"data": {"name": "grid"}, "mark": {"type": "rule", "color": "#c4c4c4", "strokeWidth": 2}, "encoding": {"x": {"field": "x", "type": "quantitative", "scale": {"domain": [0, 153.25], "nice": false}, "axis": null}, "x2": {"field": "x2"}, "y": {"field": "y", "type": "quantitative", "scale": {"domain": [0, 5], "reverse": true, "nice": false}, "axis": null}, "y2": {"field": "y2"}}},
     {"data": {"name": "frame"}, "mark": {"type": "rule", "color": "black", "strokeWidth": 2}, "encoding": {"x": {"field": "x", "type": "quantitative", "scale": {"domain": [0, 153.25], "nice": false}, "axis": null}, "x2": {"field": "x2"}, "y": {"field": "y", "type": "quantitative", "scale": {"domain": [0, 5], "reverse": true, "nice": false}, "axis": null}, "y2": {"field": "y2"}}},
     {"data": {"name": "cells"}, "transform": [{"filter": "(datum.p === 'c2' || datum.p === 'all') && datum.t !== 'Standard Error'"}], "mark": {"type": "text", "fontSize": 22, "font": "Liberation Sans", "fontWeight": "bold", "color": "black"}, "encoding": {"x": {"field": "tx", "type": "quantitative", "scale": {"domain": [0, 153.25], "nice": false}, "axis": null}, "y": {"field": "r", "type": "quantitative", "scale": {"domain": [0, 5], "reverse": true, "nice": false}, "axis": null}, "text": {"field": "t"}}},
     {"data": {"name": "cells"}, "transform": [{"filter": "datum.t === 'Standard Error'"}], "mark": {"type": "text", "fontSize": 16, "font": "Liberation Serif", "fontWeight": "bold", "color": "black"}, "encoding": {"x": {"field": "tx", "type": "quantitative", "scale": {"domain": [0, 153.25], "nice": false}, "axis": null}, "y": {"field": "r", "type": "quantitative", "scale": {"domain": [0, 5], "reverse": true, "nice": false}, "axis": null}, "text": {"field": "t"}}}
   ]},
   {"width": 246, "height": 201,
    "data": {"name": "pts"}, "transform": [{"filter": "datum.p === 'd2'"}],
    "encoding": {
     "x": {"field": "x", "type": "quantitative", "scale": {"domain": [0.2879, 0.3449], "nice": false, "zero": false}, "axis": {"values": [0.3, 0.32, 0.34], "format": ".2f", "title": null}},
     "y": {"field": "y", "type": "quantitative", "scale": {"domain": [-0.00327, 0], "nice": false, "zero": false}, "axis": {"values": [-0.003, -0.002, -0.001, 0], "format": ".3f", "title": "Energy (Hartree)"}},
     "color": {"field": "s", "type": "nominal", "scale": {"domain": ["Pure-VBM-Z-Q", "Fit"], "range": ["#f02020", "black"]},
      "legend": {"title": null, "orient": "none", "legendX": 21, "legendY": 10, "rowPadding": 5, "symbolType": {"expr": "datum.value === 'Fit' ? 'M-2.875,0L2.875,0' : 'M-2.875,0L2.875,0M-0.5,-0.5L0.5,-0.5L0.5,0.5L-0.5,0.5Z'"}, "labelColor": {"expr": "datum.value === 'Fit' ? 'black' : '#f02020'"}, "symbolFillColor": {"expr": "datum.value === 'Fit' ? 'black' : '#f02020'"}}}
    },
    "layer": [
     {"transform": [{"filter": "datum.s !== 'Fit'"}], "mark": {"type": "line", "strokeWidth": 3}},
     {"transform": [{"filter": "datum.s !== 'Fit'"}], "mark": {"type": "point", "shape": "square", "filled": true, "size": 100, "opacity": 1}},
     {"transform": [{"filter": "datum.s === 'Fit'"}], "mark": {"type": "line", "strokeWidth": 3, "interpolate": "monotone"}}
    ]},
   {"width": 246, "height": 201, "view": {"stroke": null}, "layer": [
     {"data": {"name": "grid"}, "mark": {"type": "rule", "color": "#c4c4c4", "strokeWidth": 2}, "encoding": {"x": {"field": "x", "type": "quantitative", "scale": {"domain": [0, 100], "nice": false}, "axis": null}, "x2": {"field": "x2"}, "y": {"field": "y", "type": "quantitative", "scale": {"domain": [0, 5], "reverse": true, "nice": false}, "axis": null}, "y2": {"field": "y2"}}},
     {"data": {"name": "frame"}, "mark": {"type": "rule", "color": "black", "strokeWidth": 2}, "encoding": {"x": {"field": "x", "type": "quantitative", "scale": {"domain": [0, 100], "nice": false}, "axis": null}, "x2": {"field": "x2"}, "y": {"field": "y", "type": "quantitative", "scale": {"domain": [0, 5], "reverse": true, "nice": false}, "axis": null}, "y2": {"field": "y2"}}},
     {"data": {"name": "cells"}, "transform": [{"filter": "(datum.p === 'd2' || datum.p === 'all') && datum.t !== 'Standard Error'"}], "mark": {"type": "text", "fontSize": 22, "font": "Liberation Sans", "fontWeight": "bold", "color": "black"}, "encoding": {"x": {"field": "tx", "type": "quantitative", "scale": {"domain": [0, 100], "nice": false}, "axis": null}, "y": {"field": "r", "type": "quantitative", "scale": {"domain": [0, 5], "reverse": true, "nice": false}, "axis": null}, "text": {"field": "t"}}},
     {"data": {"name": "cells"}, "transform": [{"filter": "datum.t === 'Standard Error'"}], "mark": {"type": "text", "fontSize": 16, "font": "Liberation Serif", "fontWeight": "bold", "color": "black"}, "encoding": {"x": {"field": "tx", "type": "quantitative", "scale": {"domain": [0, 100], "nice": false}, "axis": null}, "y": {"field": "r", "type": "quantitative", "scale": {"domain": [0, 5], "reverse": true, "nice": false}, "axis": null}, "text": {"field": "t"}}}
   ]}
]
}
